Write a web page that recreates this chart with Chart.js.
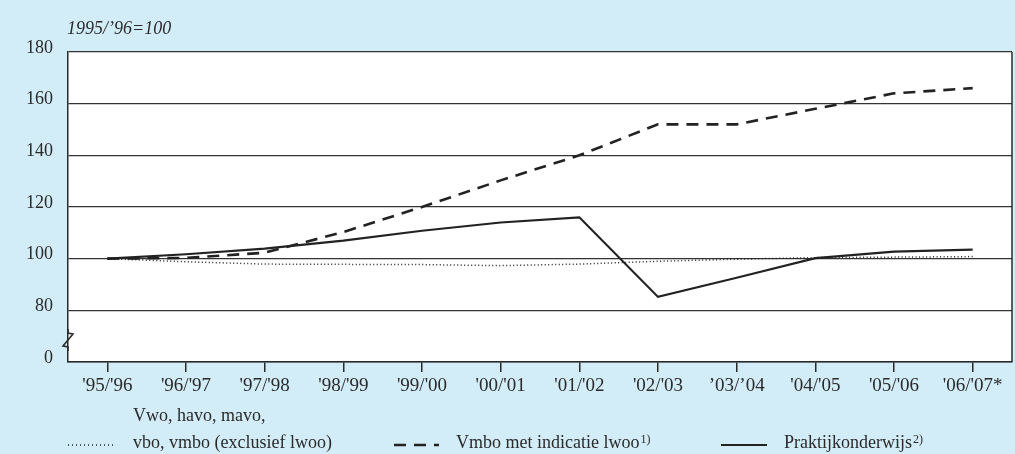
<!DOCTYPE html>
<html>
<head>
<meta charset="utf-8">
<script src="https://cdn.jsdelivr.net/npm/chart.js@4.4.0/dist/chart.umd.min.js"></script>
<style>
  html, body { margin: 0; padding: 0; background: #d3edf8; overflow: hidden; }
  #indexChart { display: block; }
</style>
</head>
<body>
<canvas id="indexChart" width="1015" height="454"></canvas>
<script>
// schooljaren
const years = ["'95/'96", "'96/'97", "'97/'98", "'98/'99", "'99/'00", "'00/'01",
               "'01/'02", "'02/'03", "\u201903/\u201904", "'04/'05", "'05/'06", "'06/'07*"];

// index 1995/'96 = 100
const vwoHavo = [100, 98.8, 97.9, 97.8, 97.7, 97.3, 97.9, 99.0, 99.8, 100.4, 100.6, 100.8];
const vmboLwoo = [100, 100.3, 102.3, 110.3, 120, 130.3, 140, 152, 152, 158, 164, 166];
const praktijk = [100, 101.7, 103.9, 107, 110.8, 114, 116, 85.2, 92.6, 100.2, 102.7, 103.5];

const yTicks = [60, 80, 100, 120, 140, 160, 180];
const yTickText = ['0', '80', '100', '120', '140', '160', '180'];

const serif = '"Liberation Serif", "DejaVu Serif", serif';
const bg = '#d3edf8';
const ink = '#2a2a2a';

const frame = {
    id: 'frame',
    beforeDraw(chart) {
        const c = chart.ctx, a = chart.chartArea;
        c.save();
        c.fillStyle = bg;
        c.fillRect(0, 0, chart.width, chart.height);
        c.fillStyle = '#fff';
        c.fillRect(a.left, a.top, a.right - a.left, a.bottom - a.top);
        c.restore();
    },
    afterDraw(chart) {
        const c = chart.ctx, a = chart.chartArea;
        c.save();
        // right border
        c.strokeStyle = ink;
        c.lineWidth = 1.5;
        c.beginPath();
        c.moveTo(a.right, a.top);
        c.lineTo(a.right, a.bottom);
        c.stroke();

        // axis break
        const by = a.bottom - 29;
        c.fillStyle = bg;
        c.fillRect(a.left - 6, by - 3, 5, 17);
        c.fillStyle = '#fff';
        c.fillRect(a.left + 1, by - 3, 6, 17);
        c.lineWidth = 1.6;
        c.beginPath();
        c.moveTo(a.left, by - 4);
        c.lineTo(a.left, by);
        c.lineTo(a.left + 5, by + 1);
        c.lineTo(a.left - 5, by + 13);
        c.lineTo(a.left, by + 14);
        c.lineTo(a.left, by + 18);
        c.stroke();

        // eenheid
        c.fillStyle = ink;
        c.font = 'italic 18px ' + serif;
        c.textBaseline = 'middle';
        c.textAlign = 'left';
        c.fillText('1995/\u201996=100', a.left - 1, 29);

        // legenda
        const items = [
            { ds: 0, x1: 68, x2: 113, tx: 133, lines: ['Vwo, havo, mavo,', 'vbo, vmbo (exclusief lwoo)'], sup: '' },
            { ds: 1, x1: 394, x2: 439, tx: 456, lines: ['Vmbo met indicatie lwoo'], sup: '1)' },
            { ds: 2, x1: 721, x2: 767, tx: 784, lines: ['Praktijkonderwijs'], sup: '2)' }
        ];
        const rowY = 443;
        items.forEach(it => {
            const ds = chart.data.datasets[it.ds];
            c.strokeStyle = ds.borderColor;
            c.lineWidth = ds.borderWidth;
            c.setLineDash(it.ds === 0 ? [1, 3] : (ds.borderDash || []));
            c.beginPath();
            c.moveTo(it.x1, rowY + 2);
            c.lineTo(it.x2, rowY + 2);
            c.stroke();
            c.setLineDash([]);
            c.font = '18px ' + serif;
            c.fillStyle = ink;
            const n = it.lines.length;
            it.lines.forEach((t, i) => {
                c.fillText(t, it.tx, rowY - (n - 1 - i) * 27);
            });
            if (it.sup) {
                const w = c.measureText(it.lines[n - 1]).width;
                c.font = '12px ' + serif;
                c.fillText(it.sup, it.tx + w + 1, rowY - 3);
            }
        });
        c.restore();
    }
};

const ctx = document.getElementById('indexChart').getContext('2d');
const chart = new Chart(ctx, {
    type: 'line',
    data: {
        labels: years,
        datasets: [
            { label: 'Vwo, havo, mavo, vbo, vmbo (exclusief lwoo)', data: vwoHavo,
              borderColor: '#222', borderWidth: 1.5, borderDash: [1, 2.5] },
            { label: 'Vmbo met indicatie lwoo', data: vmboLwoo,
              borderColor: '#222', borderWidth: 2.6, borderDash: [12, 8] },
            { label: 'Praktijkonderwijs', data: praktijk,
              borderColor: '#222', borderWidth: 2.2 }
        ]
    },
    options: {
        responsive: false,
        animation: false,
        devicePixelRatio: 1,
        layout: { padding: { left: 10, top: 52, right: 3, bottom: 0 } },
        elements: { point: { radius: 0 }, line: { tension: 0 } },
        plugins: { legend: { display: false }, tooltip: { enabled: false } },
        scales: {
            x: {
                offset: true,
                grid: { drawOnChartArea: false, drawTicks: true, tickLength: 10, color: ink, lineWidth: 1.5 },
                border: { color: ink, width: 1.5 },
                ticks: { color: ink, font: { family: serif, size: 19 }, padding: 3, maxRotation: 0, autoSkip: false },
                afterFit(scale) { scale.height = 92; }
            },
            y: {
                min: 60,
                max: 180,
                afterBuildTicks(scale) { scale.ticks = yTicks.map(v => ({ value: v })); },
                grid: { color: '#333', lineWidth: 1.3, drawTicks: false },
                border: { color: ink, width: 1.5 },
                ticks: {
                    color: ink, font: { family: serif, size: 18 }, padding: 15, labelOffset: -4,
                    callback: v => yTickText[yTicks.indexOf(v)]
                },
                afterFit(scale) { scale.width = 58; }
            }
        }
    },
    plugins: [frame]
});
</script>
</body>
</html>
